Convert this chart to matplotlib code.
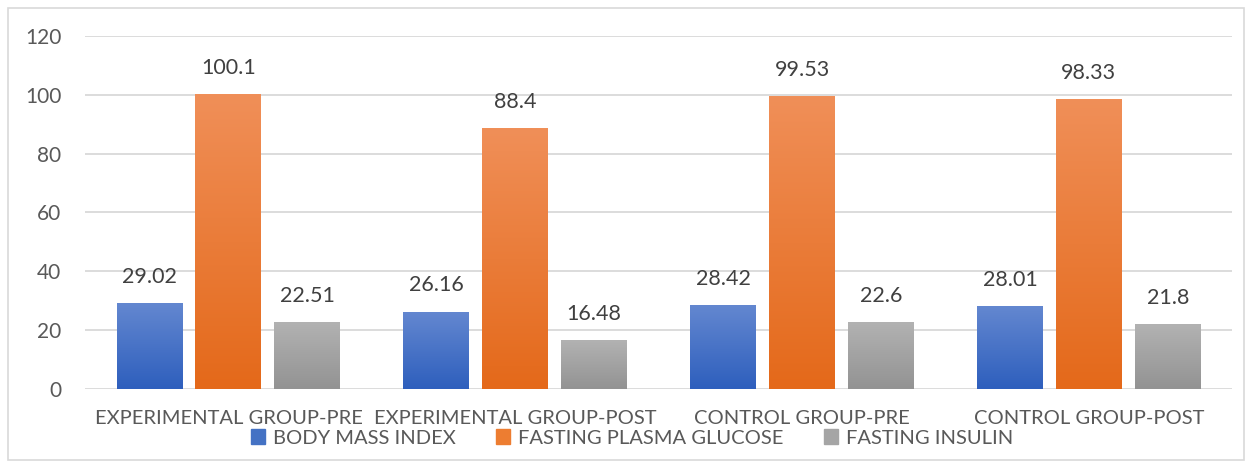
import numpy as np
import matplotlib.pyplot as plt
from matplotlib.colors import LinearSegmentedColormap
from matplotlib.patches import Rectangle

plt.rcParams['font.family'] = ['Lato', 'DejaVu Sans']

groups = ['EXPERIMENTAL GROUP-PRE', 'EXPERIMENTAL GROUP-POST',
          'CONTROL GROUP-PRE', 'CONTROL GROUP-POST']
series = ['BODY MASS INDEX', 'FASTING PLASMA GLUCOSE', 'FASTING INSULIN']
bmi = [29.02, 26.16, 28.42, 28.01]
fpg = [100.1, 88.4, 99.53, 98.33]
insulin = [22.51, 16.48, 22.6, 21.8]
labels_txt = [['29.02', '26.16', '28.42', '28.01'],
              ['100.1', '88.4', '99.53', '98.33'],
              ['22.51', '16.48', '22.6', '21.8']]

# (top colour, bottom colour) for the gradient fill
grads = [('#6387d0', '#2e5fbd'),
         ('#f08f58', '#e4691a'),
         ('#b2b2b2', '#939393')]
solid = ['#4472c4', '#ed7d31', '#a5a5a5']

fig = plt.figure(figsize=(12.51, 4.67), dpi=100)
ax = fig.add_axes([0.068, 0.167, 0.917, 0.756])

x = np.arange(len(groups))
width = 0.23
offsets = [-0.275, 0.0, 0.275]
values = [bmi, fpg, insulin]

for i, vals in enumerate(values):
    bars = ax.bar(x + offsets[i], vals, width, color='none', label=series[i],
                  zorder=3)
    cmap = LinearSegmentedColormap.from_list('g%d' % i, [grads[i][1], grads[i][0]])
    grad = np.linspace(0, 1, 100).reshape(-1, 1)
    for b in bars:
        x0, y0 = b.get_x(), b.get_y()
        ax.imshow(grad, extent=[x0, x0 + b.get_width(), y0, y0 + b.get_height()],
                  origin='lower', cmap=cmap, aspect='auto', zorder=3)
    ax.bar_label(bars, labels=labels_txt[i], padding=12, fontsize=15.5,
                 color='#404040')

ax.set_xlim(-0.5, len(groups) - 0.5)
ax.set_ylim(0, 120)
ax.set_yticks(range(0, 121, 20))
ax.set_xticks(x)
ax.set_xticklabels(groups)
ax.tick_params(axis='both', length=0, labelsize=14.5, colors='#595959')
ax.tick_params(axis='y', labelsize=15, pad=17)
ax.tick_params(axis='x', pad=15)
ax.grid(axis='y', color='#d9d9d9', linewidth=1.3, zorder=0)
for s in ax.spines.values():
    s.set_visible(False)

handles = [Rectangle((0, 0), 1, 1, color=c) for c in solid]
fig.legend(handles, series, loc='center', bbox_to_anchor=(0.505, 0.062),
           ncol=3, frameon=False, fontsize=14.5, labelcolor='#595959',
           handlelength=0.7, handleheight=0.7, handletextpad=0.4,
           columnspacing=2.0, borderpad=0)

fig.patches.append(Rectangle((8 / 1251, 7 / 467), 1236 / 1251, 452 / 467,
                             transform=fig.transFigure, fill=False,
                             edgecolor='#d9d9d9', linewidth=1.2))

fig.savefig('out.png', dpi=100)
